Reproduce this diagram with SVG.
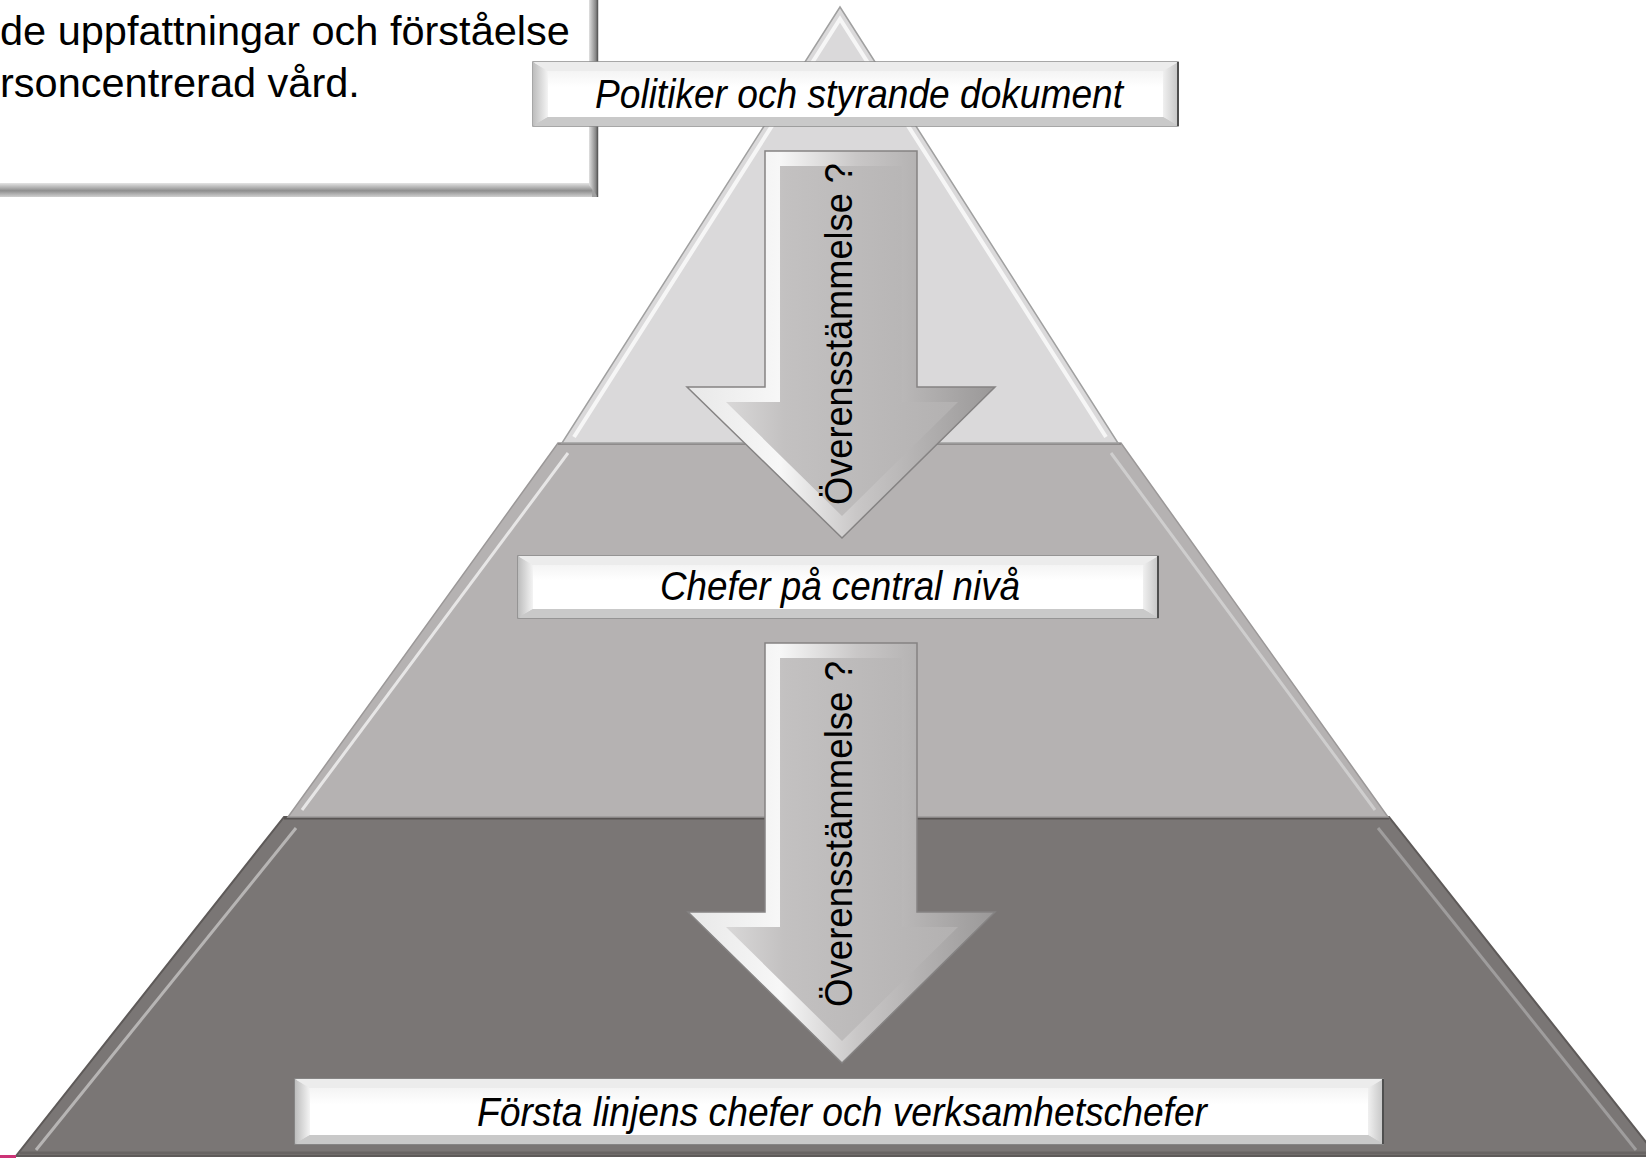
<svg xmlns="http://www.w3.org/2000/svg" width="1646" height="1158" viewBox="0 0 1646 1158">
<defs>
<style>
.lbl{font-family:"Liberation Sans",Arial,sans-serif;font-style:italic;font-size:40px;fill:#000;text-anchor:middle}
.body{font-family:"Liberation Sans",Arial,sans-serif;font-size:41.5px;fill:#000}
.vt{font-family:"Liberation Sans",Arial,sans-serif;font-size:38px;fill:#000}
.boxOuter{fill:url(#boxEdge);stroke:#8a8a8a;stroke-width:1.5}
.bevL{fill:url(#bevLeft)}
.bevR{fill:url(#bevRight)}
.bevT{fill:#ececec}
.bevB{fill:#c9c9c9}
.face{fill:url(#boxFace)}
.rEdge{stroke:#4f4f4f;stroke-width:2}
.arOut{fill:url(#arrowOuter);stroke:#858383;stroke-width:1.5}
.arIn{fill:url(#arrowInner)}
</style>
<linearGradient id="boxEdge" x1="0" y1="0" x2="0" y2="1">
<stop offset="0" stop-color="#efefef"/><stop offset="1" stop-color="#c4c4c4"/>
</linearGradient>
<linearGradient id="bevLeft" x1="0" y1="0" x2="1" y2="0">
<stop offset="0" stop-color="#bdbdbd"/><stop offset="1" stop-color="#f4f4f4"/>
</linearGradient>
<linearGradient id="bevRight" x1="0" y1="0" x2="1" y2="0">
<stop offset="0" stop-color="#f0f0f0"/><stop offset="1" stop-color="#c6c6c6"/>
</linearGradient>
<linearGradient id="boxFace" x1="0" y1="0" x2="0" y2="1">
<stop offset="0" stop-color="#f4f4f4"/><stop offset="0.35" stop-color="#ffffff"/><stop offset="1" stop-color="#ffffff"/>
</linearGradient>
<linearGradient id="arrowOuter" x1="0" y1="0" x2="1" y2="0">
<stop offset="0" stop-color="#e8e8e8"/><stop offset="0.3" stop-color="#f7f7f7"/><stop offset="0.55" stop-color="#c9c7c7"/><stop offset="1" stop-color="#9a9898"/>
</linearGradient>
<linearGradient id="arrowInner" x1="0" y1="0" x2="1" y2="0">
<stop offset="0" stop-color="#d9d8d8"/><stop offset="0.25" stop-color="#c3c1c1"/><stop offset="1" stop-color="#b3b1b1"/>
</linearGradient>
<linearGradient id="tlBottom" x1="0" y1="0" x2="0" y2="1">
<stop offset="0" stop-color="#e4e4e4"/><stop offset="0.55" stop-color="#8e8e8e"/><stop offset="1" stop-color="#d0d0d0"/>
</linearGradient>
<linearGradient id="tlRight" x1="0" y1="0" x2="1" y2="0">
<stop offset="0" stop-color="#e0e0e0"/><stop offset="0.6" stop-color="#9a9a9a"/><stop offset="1" stop-color="#6a6a6a"/>
</linearGradient>
</defs>

<!-- Pyramid tiers -->
<g id="tier-bottom">
<polygon points="284,817 1389,817 1657,1156 16,1156" fill="#7a7675" stroke="#5e5a59" stroke-width="2"/>
<line x1="296" y1="828" x2="36" y2="1150" stroke="#c2c0c0" stroke-width="3" opacity="0.85"/>
<line x1="1378" y1="828" x2="1636" y2="1150" stroke="#a6a4a4" stroke-width="3" opacity="0.85"/>
<line x1="284" y1="818" x2="1389" y2="818" stroke="#575352" stroke-width="3"/>
<line x1="20" y1="1153" x2="1650" y2="1153" stroke="#686463" stroke-width="3"/>
</g>
<g id="tier-middle">
<polygon points="558,443 1121,443 1388,817 288,817" fill="#b5b2b2" stroke="#9b9898" stroke-width="1.5"/>
<line x1="568" y1="453" x2="302" y2="810" stroke="#f4f4f4" stroke-width="3" opacity="0.8"/>
<line x1="1111" y1="453" x2="1375" y2="810" stroke="#d6d6d6" stroke-width="3" opacity="0.8"/>
<line x1="558" y1="444" x2="1121" y2="444" stroke="#8e8b8b" stroke-width="2"/>
</g>
<g id="tier-top">
<polygon points="840,7 1118,443 562,443" fill="#dad9da" stroke="#a0a0a0" stroke-width="1.5"/>
<polyline points="574,437 840,19 1106,437" fill="none" stroke="#f6f6f6" stroke-width="4"/>
</g>

<!-- Connectors: block arrows -->
<g id="connectors">
<g id="arrow-1">
<polygon class="arOut" points="765,151 917,151 917,387 995,387 842,538 687,387 765,387"/>
<polygon class="arIn" points="780,166 902,166 902,402 958,402 842,516 726,402 780,402"/>
<text class="vt" transform="translate(852,505) rotate(-90)" x="0" y="0" textLength="342" lengthAdjust="spacingAndGlyphs">Överensstämmelse ?</text>
</g>
<g id="arrow-2">
<polygon class="arOut" points="765,643 917,643 917,912 995,912 842,1063 688,912 765,912"/>
<polygon class="arIn" points="780,658 902,658 902,927 958,927 842,1041 726,927 780,927"/>
<text class="vt" transform="translate(852,1007) rotate(-90)" x="0" y="0" textLength="346" lengthAdjust="spacingAndGlyphs">Överensstämmelse ?</text>
</g>
</g>

<!-- Top-left text box -->
<g id="note">
<rect x="-10" y="-10" width="608" height="207" fill="#a0a0a0"/>
<rect x="-10" y="183" width="602" height="14" fill="url(#tlBottom)"/>
<polygon points="589,-10 598,-10 598,197 589,185" fill="url(#tlRight)"/>
<rect x="-10" y="-10" width="599" height="193" fill="#ffffff"/>
<line x1="597.5" y1="-10" x2="597.5" y2="197" stroke="#5c5c5c" stroke-width="1.5"/>
<text class="body" x="0" y="45">de uppfattningar och förståelse</text>
<text class="body" x="0" y="97">rsoncentrerad vård.</text>
</g>

<!-- Level labels -->
<g id="label-politiker">
<rect class="boxOuter" x="533" y="62" width="645" height="64"/>
<polygon class="bevL" points="533,62 548,71 548,117 533,126"/>
<polygon class="bevR" points="1178,62 1163,71 1163,117 1178,126"/>
<polygon class="bevT" points="533,62 1178,62 1163,71 548,71"/>
<polygon class="bevB" points="533,126 1178,126 1163,117 548,117"/>
<rect class="face" x="548" y="71" width="615" height="46"/>
<line class="rEdge" x1="1178" y1="62" x2="1178" y2="126"/>
<text class="lbl" x="859" y="108" textLength="528" lengthAdjust="spacingAndGlyphs">Politiker och styrande dokument</text>
</g>
<g id="label-chefer">
<rect class="boxOuter" x="518" y="556" width="640" height="62"/>
<polygon class="bevL" points="518,556 533,565 533,609 518,618"/>
<polygon class="bevR" points="1158,556 1143,565 1143,609 1158,618"/>
<polygon class="bevT" points="518,556 1158,556 1143,565 533,565"/>
<polygon class="bevB" points="518,618 1158,618 1143,609 533,609"/>
<rect class="face" x="533" y="565" width="610" height="44"/>
<line class="rEdge" x1="1158" y1="556" x2="1158" y2="618"/>
<text class="lbl" x="840" y="600" textLength="360" lengthAdjust="spacingAndGlyphs">Chefer på central nivå</text>
</g>
<g id="label-forsta">
<rect class="boxOuter" x="295" y="1079" width="1088" height="65"/>
<polygon class="bevL" points="295,1079 310,1088 310,1135 295,1144"/>
<polygon class="bevR" points="1383,1079 1368,1088 1368,1135 1383,1144"/>
<polygon class="bevT" points="295,1079 1383,1079 1368,1088 310,1088"/>
<polygon class="bevB" points="295,1144 1383,1144 1368,1135 310,1135"/>
<rect class="face" x="310" y="1088" width="1058" height="47"/>
<line class="rEdge" x1="1383" y1="1079" x2="1383" y2="1144"/>
<text class="lbl" x="842" y="1126" textLength="730" lengthAdjust="spacingAndGlyphs">Första linjens chefer och verksamhetschefer</text>
</g>

<rect x="0" y="1155" width="16" height="3" fill="#cc3377"/>
</svg>
